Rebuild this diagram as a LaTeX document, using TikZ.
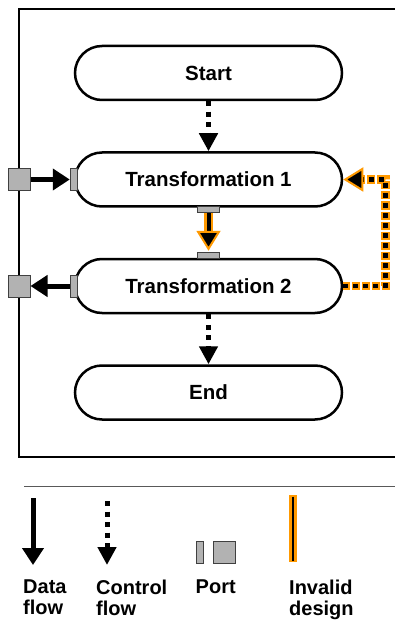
\documentclass[tikz,border=0pt]{standalone}
\usepackage{fontspec}
\setmainfont{Liberation Sans}
\usetikzlibrary{arrows.meta,shapes.misc}
\definecolor{inv}{RGB}{255,153,0}
\definecolor{portgray}{RGB}{178,178,178}
\begin{document}
\begin{tikzpicture}[x=1pt,y=-1pt,
  stadium/.style={draw, line width=2.5pt, rounded rectangle, minimum width=267pt, minimum height=54pt, inner sep=0pt, font=\bfseries\fontsize{20.5}{24}\selectfont},
  portbase/.style={draw=black!75, fill=portgray, line width=1pt, inner sep=0pt},
  smallport/.style={portbase, minimum width=7pt, minimum height=22pt},
  bigport/.style={portbase, minimum width=22pt, minimum height=22pt},
  hport/.style={portbase, minimum width=22pt, minimum height=6pt},
  dataflow/.style={line width=5pt, -{Triangle[length=17pt,width=21pt]}},
  ctrlflow/.style={line width=5pt, dash pattern=on 5pt off 5.5pt, -{Triangle[length=18pt,width=18pt]}},
  legendtext/.style={anchor=north west, inner sep=0pt, align=left, font=\bfseries\fontsize{20}{21}\selectfont}
]
\useasboundingbox (0,0) rectangle (394,620);
% frame
\draw[line width=2.5pt] (396,9) -| (19,457) -- (396,457);
% nodes
\node[stadium] (start) at (208.5,73) {Start};
\node[stadium] (t1) at (208.5,179.5) {Transformation 1};
\node[stadium] (t2) at (208.5,286) {Transformation 2};
\node[stadium] (end) at (208.5,392.5) {End};
% ports
\node[smallport] (p1L) at (t1.west) {};
\node[smallport] (p2L) at (t2.west) {};
\node[bigport] (p1F) at (19,179.5) {};
\node[bigport] (p2F) at (19,286) {};
\node[hport, anchor=north] (p1B) at ([yshift=1.5pt]t1.south) {};
\node[hport, anchor=south] (p2T) at ([yshift=-1.5pt]t2.north) {};
% control flow
\draw[ctrlflow] (start.south) -- (t1.north);
\draw[ctrlflow] (t2.south) -- (end.north);
% data flow
\draw[dataflow] (p1F.east) -- (p1L.west);
\draw[dataflow] (p2L.west) -- (p2F.east);
% invalid data flow
\draw[inv, line width=9pt, shorten >=18pt] (p1B.south) -- (p2T.north);
\draw[line width=4pt, shorten >=1.5pt, -{Triangle[length=20pt,width=24pt,color=inv,fill=black,line width=2pt]}] (p1B.south) -- (p2T.north);
% invalid control loop
\draw[inv, line width=8.5pt, dash pattern=on 8pt off 2pt, dash phase=1.5pt, shorten >=18pt] (t2.east) -- ++(42,0) |- (t1.east);
\draw[line width=4.5pt, dash pattern=on 5pt off 5pt, -{Triangle[length=20pt,width=24pt,color=inv,fill=black,line width=2pt]}] (t2.east) -- ++(42,0) |- (t1.east);
% legend
\draw[black!65, line width=1pt] (24,486) -- (396,486);
\coordinate (dfA) at (33,498);
\coordinate (dfB) at (33,565);
\draw[dataflow] (dfA) -- (dfB);
\coordinate (cfA) at (107,501);
\coordinate (cfB) at (107,565);
\draw[ctrlflow] (cfA) -- (cfB);
\node[smallport] (lpS) at (199.5,552) {};
\node[bigport] (lpB) at (224.5,552) {};
\coordinate (ivA) at (293,495);
\coordinate (ivB) at (293,562);
\draw[inv, line width=8pt] (ivA) -- (ivB);
\draw[line width=2.5pt, shorten <=1.5pt, shorten >=1.5pt] (ivA) -- (ivB);
\node[legendtext] (lt1) at (23,580) {Data\\flow};
\node[legendtext] (lt2) at (96,580) {Control\\flow};
\node[legendtext] (lt3) at (195.5,580) {Port};
\node[legendtext] (lt4) at (289,580) {Invalid\\design};
\end{tikzpicture}
\end{document}
